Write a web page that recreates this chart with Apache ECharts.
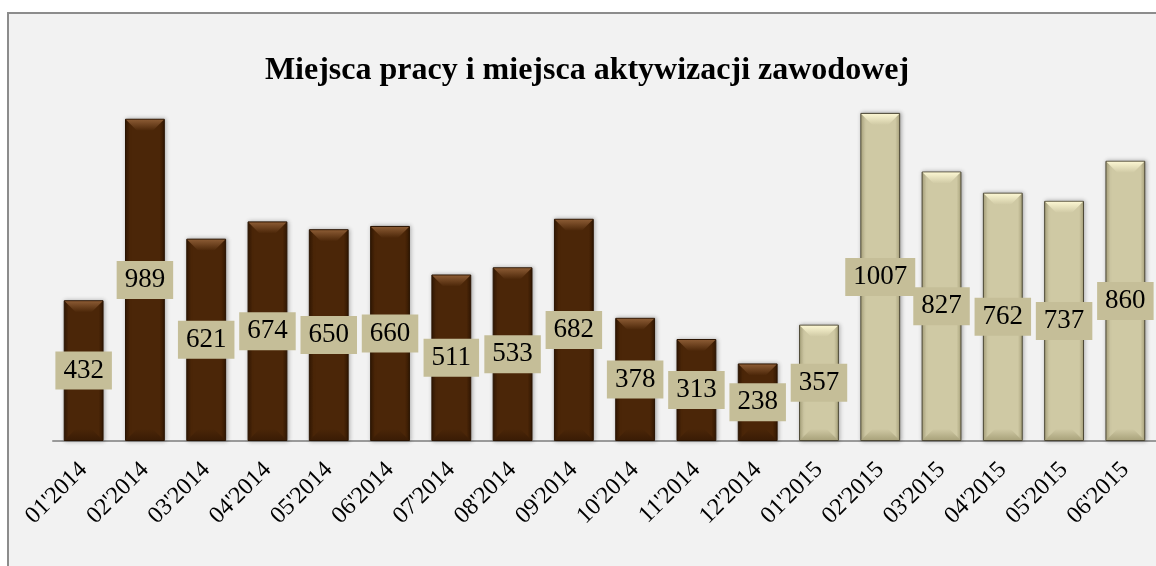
<!DOCTYPE html>
<html>
<head>
<meta charset="utf-8">
<script src="https://cdn.jsdelivr.net/npm/echarts@6/dist/echarts.min.js"></script>
<style>
    html, body { margin: 0; padding: 0; background: #ffffff; }
    #chart { width: 1156px; height: 566px; }
</style>
</head>
<body>
<div id="chart"></div>
<script>
    // miesiące i wartości
    var months = ["01'2014", "02'2014", "03'2014", "04'2014", "05'2014", "06'2014",
        "07'2014", "08'2014", "09'2014", "10'2014", "11'2014", "12'2014",
        "01'2015", "02'2015", "03'2015", "04'2015", "05'2015", "06'2015"];
    var values = [432, 989, 621, 674, 650, 660, 511, 533, 682, 378, 313, 238,
        357, 1007, 827, 762, 737, 860];
    var titleText = 'Miejsca pracy i miejsca aktywizacji zawodowej';

    function is2015(i) {
        return months[i].indexOf('2015') > -1;
    }

    function barStyle(i) {
        if (is2015(i)) {
            return {
                color: new echarts.graphic.LinearGradient(0, 0, 1, 0, [
                    {offset: 0, color: '#aea77f'},
                    {offset: 0.12, color: '#cfc9a4'},
                    {offset: 0.88, color: '#cfc9a4'},
                    {offset: 1, color: '#aea77f'}
                ]),
                borderColor: '#4d4835',
                borderWidth: 1,
                shadowColor: 'rgba(0,0,0,0.3)',
                shadowBlur: 4,
                shadowOffsetX: 1
            };
        }
        return {
            color: new echarts.graphic.LinearGradient(0, 0, 1, 0, [
                {offset: 0, color: '#331803'},
                {offset: 0.12, color: '#4b2608'},
                {offset: 0.88, color: '#4b2608'},
                {offset: 1, color: '#331803'}
            ]),
            borderColor: '#2a1402',
            borderWidth: 1,
            shadowColor: 'rgba(0,0,0,0.3)',
            shadowBlur: 4,
            shadowOffsetX: 1
        };
    }

    var barData = values.map(function (v, i) {
        return {value: v, itemStyle: barStyle(i)};
    });

    // skos na górze i dole słupka
    function renderBevel(params, api) {
        var idx = params.dataIndex;
        var top = api.coord([api.value(0), api.value(1)]);
        var base = api.coord([api.value(0), 0]);
        var w = api.size([1, 0])[0] * 0.65;
        var x0 = top[0] - w / 2 + 1, x1 = top[0] + w / 2 - 1;
        var t = top[1] + 1, b = base[1] - 1;
        var d = 11;
        var light = is2015(idx) ? ['#fbf6d2', '#cfc9a4'] : ['#8a5a33', '#4b2608'];
        var dark = is2015(idx) ? ['#cfc9a4', '#aaa37c'] : ['#4b2608', '#3a1c05'];
        return {
            type: 'group',
            children: [
                {
                    type: 'polygon',
                    shape: {points: [[x0, t], [x1, t], [x1 - d, t + d], [x0 + d, t + d]]},
                    style: {
                        fill: new echarts.graphic.LinearGradient(0, 0, 0, 1, [
                            {offset: 0, color: light[0]},
                            {offset: 1, color: light[1]}
                        ])
                    }
                },
                {
                    type: 'polygon',
                    shape: {points: [[x0 + d, b - d], [x1 - d, b - d], [x1, b], [x0, b]]},
                    style: {
                        fill: new echarts.graphic.LinearGradient(0, 0, 0, 1, [
                            {offset: 0, color: dark[0]},
                            {offset: 1, color: dark[1]}
                        ])
                    }
                }
            ]
        };
    }

    var chart = echarts.init(document.getElementById('chart'));
    var option = {
        animation: false,
        graphic: [
            {
                type: 'rect',
                z: -10,
                shape: {x: 8, y: 13, width: 1170, height: 580},
                style: {fill: '#f2f2f2', stroke: '#8c8c8c', lineWidth: 2}
            }
        ],
        title: {
            text: titleText,
            left: 582,
            textAlign: 'center',
            top: 50,
            textStyle: {
                fontFamily: 'Liberation Serif',
                fontSize: 32,
                fontWeight: 'bold',
                color: '#000'
            }
        },
        grid: {
            left: 53,
            right: -2,
            top: 50,
            bottom: 125
        },
        xAxis: {
            type: 'category',
            data: months,
            axisLine: {lineStyle: {color: '#9a9a9a', width: 2}},
            axisTick: {show: false},
            axisLabel: {
                rotate: 45,
                margin: 25,
                fontFamily: 'Liberation Serif',
                fontSize: 24,
                color: '#000'
            }
        },
        yAxis: {
            type: 'value',
            min: 0,
            max: 1200,
            show: false,
            splitLine: {show: false}
        },
        series: [
            {
                type: 'bar',
                barWidth: '65%',
                data: barData,
                label: {
                    show: true,
                    position: 'inside',
                    fontFamily: 'Liberation Serif',
                    fontSize: 27,
                    color: '#000',
                    backgroundColor: '#c5be98',
                    padding: [6, 8, 5, 8]
                }
            },
            {
                type: 'custom',
                renderItem: renderBevel,
                data: values.map(function (v, i) { return [i, v]; }),
                silent: true,
                z: 3
            }
        ]
    };
    chart.setOption(option);
</script>
</body>
</html>
